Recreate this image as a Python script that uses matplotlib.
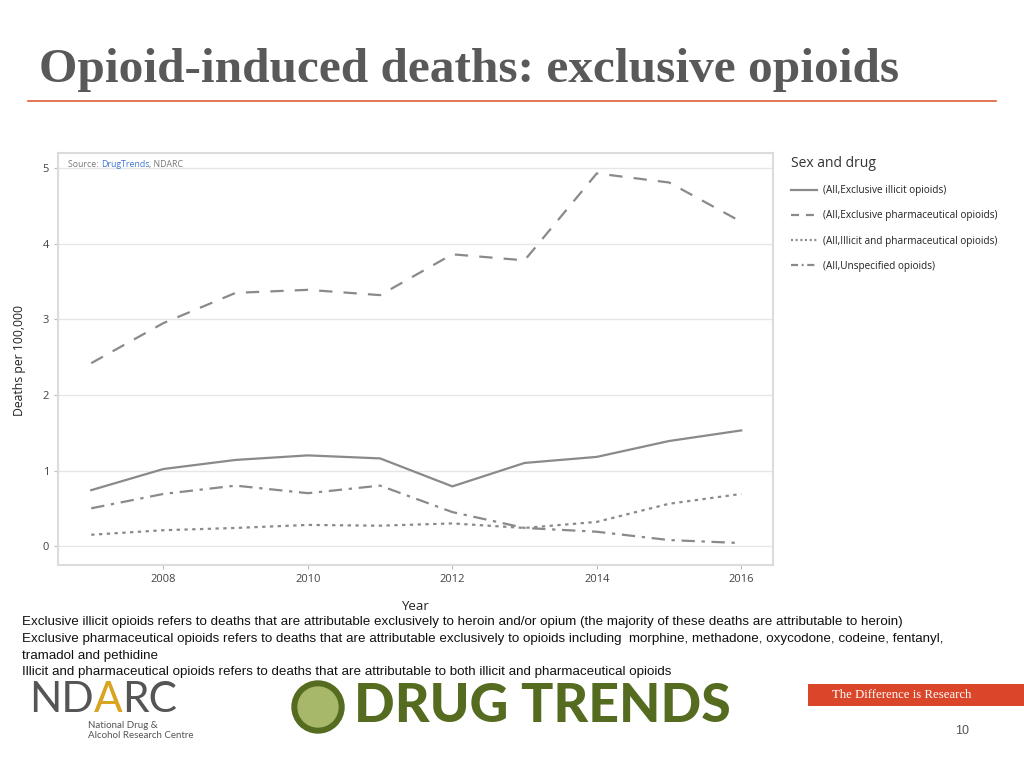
import matplotlib
matplotlib.use("Agg")
import matplotlib.pyplot as plt
from matplotlib.lines import Line2D
from matplotlib.patches import Rectangle, Circle

years = [2007, 2008, 2009, 2010, 2011, 2012, 2013, 2014, 2015, 2016]
excl_illicit = [0.74, 1.02, 1.14, 1.20, 1.16, 0.79, 1.10, 1.18, 1.39, 1.53]
excl_pharma = [2.42, 2.95, 3.35, 3.39, 3.32, 3.86, 3.78, 4.93, 4.81, 4.29]
illicit_and_pharma = [0.15, 0.21, 0.24, 0.28, 0.27, 0.30, 0.24, 0.32, 0.56, 0.69]
unspecified = [0.50, 0.69, 0.80, 0.70, 0.80, 0.45, 0.24, 0.19, 0.08, 0.04]

series_labels = ["(All,Exclusive illicit opioids)",
                 "(All,Exclusive pharmaceutical opioids)",
                 "(All,Illicit and pharmaceutical opioids)",
                 "(All,Unspecified opioids)"]
x_ticks = [2008, 2010, 2012, 2014, 2016]
y_ticks = [0, 1, 2, 3, 4, 5]

fig = plt.figure(figsize=(10.24, 7.68), dpi=100)
fig.patch.set_facecolor("white")

# Title
fig.text(0.038, 0.909, "Opioid-induced deaths: exclusive opioids", family="Liberation Serif",
         fontsize=35.6, fontweight="bold", color="#595959", va="center", ha="left")
fig.add_artist(Line2D([28/1024, 996/1024], [1-101/768, 1-101/768], color="#E0603A", lw=1.2))

ax = fig.add_axes([58/1024, 1-565/768, (773-58)/1024, (565-153)/768])
lc = "#8a8a8a"
styles = [dict(ls="-"), dict(ls=(0, (6, 5))), dict(ls=(0, (1.5, 2))), dict(ls=(0, (6, 3, 1.5, 3)))]
leg_styles = [dict(ls="-"), dict(ls=(0, (3.6, 3.1))), dict(ls=(0, (0.9, 1.2))), dict(ls=(0, (3.2, 1.6, 0.9, 1.6)))]
handles = []
for vals, st, lst, lab in zip([excl_illicit, excl_pharma, illicit_and_pharma, unspecified],
                              styles, leg_styles, series_labels):
    ax.plot(years, vals, color=lc, lw=1.6, label=lab, **st)
    handles.append(Line2D([], [], color=lc, lw=1.6, **lst))

ax.set_xlim(2006.54, 2016.44)
ax.set_ylim(-0.25, 5.2)
ax.set_xticks(x_ticks)
ax.set_yticks(y_ticks)
ax.grid(axis="y", color="#e6e6e6", lw=1)
ax.set_axisbelow(True)
for s in ax.spines.values():
    s.set_color("#dcdcdc")
    s.set_linewidth(1.5)
ax.tick_params(axis="both", colors="#bbbbbb", labelcolor="#444444", labelsize=8, length=3)
for lab in ax.get_xticklabels() + ax.get_yticklabels():
    lab.set_family("Open Sans")

fig.text(20/1024, 1-361/768, "Deaths per 100,000", rotation=90, family="Open Sans", fontsize=8.8,
         color="#222222", va="center", ha="center")
fig.text(415/1024, 1-607/768, "Year", family="Open Sans", fontsize=9.5, color="#222222",
         va="center", ha="center")

# Source text
src_y = 0.972
t1 = ax.text(0.014, src_y, "Source: ", transform=ax.transAxes, family="Open Sans", fontsize=6.3,
             color="#777777", va="center", ha="left")
fig.canvas.draw()
bb = t1.get_window_extent()
inv = ax.transAxes.inverted()
x2 = inv.transform((bb.x1, bb.y0))[0]
t2 = ax.text(x2, src_y, "DrugTrends", transform=ax.transAxes, family="Open Sans", fontsize=6.3,
             color="#3b78d8", va="center", ha="left")
bb2 = t2.get_window_extent()
x3 = inv.transform((bb2.x1, bb2.y0))[0]
ax.text(x3, src_y, ", NDARC", transform=ax.transAxes, family="Open Sans", fontsize=6.3,
        color="#777777", va="center", ha="left")

# Legend
leg = fig.legend(handles=handles, labels=series_labels, loc="upper left",
                 bbox_to_anchor=(782/1024, 1-147/768), frameon=False, title="Sex and drug",
                 prop={"family": "Open Sans", "size": 7.2}, handlelength=2.6, labelspacing=1.42,
                 alignment="left", handletextpad=0.6)
leg.get_title().set_family("Open Sans")
leg.get_title().set_fontsize(10)
leg.get_title().set_color("#333333")
for t in leg.get_texts():
    t.set_color("#222222")

# Footnotes
notes = ["Exclusive illicit opioids refers to deaths that are attributable exclusively to heroin and/or opium (the majority of these deaths are attributable to heroin)",
         "Exclusive pharmaceutical opioids refers to deaths that are attributable exclusively to opioids including  morphine, methadone, oxycodone, codeine, fentanyl,",
         "tramadol and pethidine",
         "Illicit and pharmaceutical opioids refers to deaths that are attributable to both illicit and pharmaceutical opioids"]
for i, n in enumerate(notes):
    fig.text(22/1024, 1-(622+16.8*i)/768, n, family="Liberation Sans", fontsize=9.66, color="#111111",
             va="center", ha="left")

# NDARC logo
fig.canvas.draw()
r = fig.canvas.get_renderer()
nd = fig.text(29/1024, 1-700/768, "ND", family="Lato", fontsize=30.5, color="#555555",
              va="center", ha="left")
xa = fig.transFigure.inverted().transform((nd.get_window_extent(r).x1, 0))[0]
aa = fig.text(xa, 1-700/768, "A", family="Lato", fontsize=30.5, color="#d9a520",
              va="center", ha="left")
xr = fig.transFigure.inverted().transform((aa.get_window_extent(r).x1, 0))[0]
fig.text(xr, 1-700/768, "RC", family="Lato", fontsize=30.5, color="#555555", va="center", ha="left")
fig.text(88/1024, 1-725/768, "National Drug &", family="Lato", fontsize=7, color="#555555",
         va="center", ha="left")
fig.text(88/1024, 1-736/768, "Alcohol Research Centre", family="Lato", fontsize=7,
         color="#555555", va="center", ha="left")

# Drug Trends logo
fig.add_artist(Circle((318/100, (768-707)/100), 0.26, transform=fig.dpi_scale_trans, color="#556b1f"))
fig.add_artist(Circle((318/100, (768-707)/100), 0.20, transform=fig.dpi_scale_trans, color="#a8b86a"))
fig.text(354/1024, 1-707/768, "DRUG TRENDS", family="Lato", fontweight="black",
         fontsize=38.5, color="#556b1f", va="center", ha="left")

# Red banner
fig.add_artist(Rectangle((808/1024, 1-706/768), (1024-808)/1024, 22/768, transform=fig.transFigure,
                         color="#d9462a", lw=0))
fig.text(902/1024, 1-695/768, "The Difference is Research", family="Liberation Serif", fontsize=9.2,
         color="white", va="center", ha="center")
fig.text(962/1024, 1-731/768, "10", family="Liberation Sans", fontsize=9, color="#555555",
         va="center", ha="center")

fig.savefig("out.png", dpi=100)
